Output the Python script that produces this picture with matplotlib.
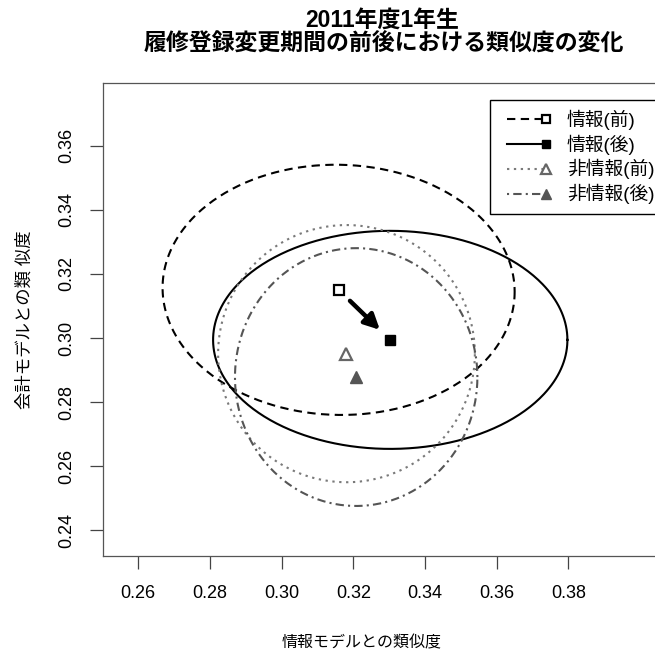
import numpy as np
import matplotlib
matplotlib.use('Agg')
import matplotlib.pyplot as plt
from matplotlib.lines import Line2D
from matplotlib.legend_handler import HandlerBase

plt.rcParams['font.family'] = ['Liberation Sans', 'Noto Sans CJK JP', 'DejaVu Sans']

# ---- data ----
groups = ['情報(前)', '情報(後)', '非情報(前)', '非情報(後)']
mean_x = [0.3159, 0.3303, 0.3181, 0.3208]
mean_y = [0.3150, 0.2994, 0.2951, 0.2878]
radius_x = [0.0491, 0.0494, 0.0358, 0.0338]
radius_y = [0.0390, 0.0340, 0.0401, 0.0402]
tilt_deg = [-2.0, 0.0, 0.0, 0.0]
x_ticks = [0.26, 0.28, 0.30, 0.32, 0.34, 0.36, 0.38]
y_ticks = [0.24, 0.26, 0.28, 0.30, 0.32, 0.34, 0.36]
title_line1 = '2011年度1年生'
title_line2 = '履修登録変更期間の前後における類似度の変化'
x_label = '情報モデルとの類似度'
y_label = '会計モデルとの類 似度'

# ---- styles ----
line_colors = ['black', 'black', '#7a7a7a', '#555555']
line_styles = [(0, (4, 2.6)), '-', (0, (1.1, 2.2)), (0, (1.0, 2.0, 4.0, 2.0))]
line_widths = [1.5, 1.5, 1.5, 1.5]
markers = ['s', 's', '^', '^']
marker_sizes = [7.5, 6.5, 9, 8]
marker_face = ['white', 'black', 'white', '#555555']
marker_edge = ['black', 'black', '#666666', '#555555']
marker_ew = [1.6, 1.0, 1.6, 1.0]

fig = plt.figure(figsize=(6.55, 6.51), dpi=100)
ax = fig.add_axes([103 / 655, 1 - 556 / 651, 558 / 655, 473 / 651])
ax.set_xlim(0.2502, 0.4058)
ax.set_ylim(0.2320, 0.3795)

t = np.linspace(0, 2 * np.pi, 400)
handles = []
for i in range(4):
    th = np.deg2rad(tilt_deg[i])
    ex = radius_x[i] * np.cos(t)
    ey = radius_y[i] * np.sin(t)
    xs = mean_x[i] + ex * np.cos(th) - ey * np.sin(th)
    ys = mean_y[i] + ex * np.sin(th) + ey * np.cos(th)
    ax.plot(xs, ys, color=line_colors[i], linestyle=line_styles[i],
            lw=line_widths[i])
    ax.plot([mean_x[i]], [mean_y[i]], linestyle='None', marker=markers[i],
            ms=marker_sizes[i], mfc=marker_face[i], mec=marker_edge[i],
            mew=marker_ew[i], zorder=5)
    handles.append(Line2D([], [], color=line_colors[i], linestyle=line_styles[i],
                          lw=line_widths[i], marker=markers[i],
                          ms=marker_sizes[i], mfc=marker_face[i],
                          mec=marker_edge[i], mew=marker_ew[i]))

# arrow from before to after (information group)
dx = mean_x[1] - mean_x[0]
dy = mean_y[1] - mean_y[0]
ax.annotate('', xy=(mean_x[0] + 0.80 * dx, mean_y[0] + 0.80 * dy),
            xytext=(mean_x[0] + 0.22 * dx, mean_y[0] + 0.22 * dy),
            arrowprops=dict(arrowstyle='-|>,head_length=0.7,head_width=0.35',
                            lw=3.2, color='black', mutation_scale=13,
                            shrinkA=0, shrinkB=0))


class LineEndMarker(HandlerBase):
    def create_artists(self, legend, orig, xdescent, ydescent, width, height,
                       fontsize, trans):
        y = height / 2 - ydescent
        x0, x1 = -xdescent + 0.42 * fontsize, -xdescent + width
        ln = Line2D([x0, x1], [y, y])
        ln.update_from(orig)
        ln.set_marker('None')
        ln.set_transform(trans)
        mk = Line2D([x1], [y])
        mk.update_from(orig)
        mk.set_linestyle('None')
        mk.set_markersize(orig.get_markersize() * 0.85)
        mk.set_transform(trans)
        return [ln, mk]


leg = ax.legend(handles, groups, handler_map={Line2D: LineEndMarker()},
                loc='upper left', bbox_to_anchor=(490 / 655, 1 - 100 / 651),
                bbox_transform=fig.transFigure, borderaxespad=0,
                fontsize=13.5, handlelength=2.5, handletextpad=1.1,
                borderpad=0.5, labelspacing=0.25, fancybox=False,
                framealpha=1, edgecolor='black')
leg.get_frame().set_linewidth(1.0)

ax.set_xticks(x_ticks, [f'{v:.2f}' for v in x_ticks])
ax.set_yticks(y_ticks, [f'{v:.2f}' for v in y_ticks])
ax.tick_params(axis='both', direction='out', length=9.4, width=0.9,
               colors='#444444', labelcolor='black', labelsize=13)
ax.tick_params(axis='x', pad=11.5)
ax.tick_params(axis='y', pad=10.6)
for lab in ax.get_yticklabels():
    lab.set_rotation(90)
    lab.set_va('center')
for sp in ax.spines.values():
    sp.set_color('#555555')
    sp.set_linewidth(0.9)

ax.set_xlabel(x_label, fontsize=11.5)
ax.xaxis.set_label_coords((362 - 103) / 558, -(643 - 556) / 473)
ax.xaxis.label.set_va('center')
ax.set_ylabel(y_label, fontsize=12.5)
ax.yaxis.set_label_coords((24 - 103) / 558, 0.5)
ax.yaxis.label.set_va('center')
ax.yaxis.label.set_ha('center')

fig.text(382 / 655, 1 - 20.5 / 651, title_line1, ha='center', va='center',
         fontsize=16.5, fontweight='bold')
fig.text(384 / 655, 1 - 43 / 651, title_line2, ha='center', va='center',
         fontsize=16.5, fontweight='bold')

fig.savefig('out.png', dpi=100)
